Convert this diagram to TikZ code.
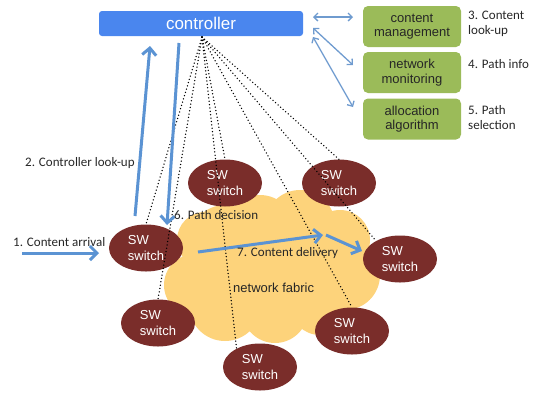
\documentclass[tikz,border=0pt]{standalone}
\usepackage{fontspec}
\setmainfont{Liberation Sans}
\newfontfamily\calib{Carlito}
\usetikzlibrary{arrows.meta,shapes.geometric}
\definecolor{ctrlblue}{HTML}{4A86EE}
\definecolor{boxgreen}{HTML}{9BBB59}
\definecolor{swred}{HTML}{7A2D2A}
\definecolor{cloudc}{HTML}{FDD37B}
\definecolor{arrblue}{HTML}{5B93D3}
\definecolor{thinblue}{HTML}{6F9BCF}
\tikzset{
  ctrlbox/.style={fill=ctrlblue, rounded corners=3pt, minimum width=204pt, minimum height=25pt, inner sep=0pt, text=white, font=\fontsize{17}{19}\selectfont},
  funcbox/.style={fill=boxgreen, rounded corners=5pt, minimum width=98pt, minimum height=41pt, inner sep=0pt, align=center, text=black!85, font=\fontsize{13}{14.5}\selectfont},
  swnode/.style={ellipse, fill=swred, minimum width=74pt, minimum height=47pt, inner sep=0pt, align=left, text=white, font=\fontsize{13}{15.5}\selectfont},
  lbl/.style={inner sep=0pt, align=left, anchor=west, text=black!85, font=\calib\fontsize{13}{15.5}\selectfont},
  ctrlline/.style={line width=1.5pt, dash pattern=on 0pt off 3.4pt, line cap=round, black},
  bigarrow/.style={arrblue, line width=3pt, -{Straight Barb[length=7pt,width=14pt]}},
  thinarrow/.style={thinblue, line width=1.3pt, {Straight Barb[length=4pt,width=8pt]}-{Straight Barb[length=4pt,width=8pt]}}
}
\begin{document}
\begin{tikzpicture}[x=1pt,y=-1pt]
\useasboundingbox (0,0) rectangle (538,392);
% cloud
\fill[cloudc]
  (275,270) circle[radius=52pt]
  (205,240) circle[radius=28pt]
  (225,240) circle[radius=35pt]
  (260,230) circle[radius=35pt]
  (300,225) circle[radius=35pt]
  (340,240) circle[radius=30pt]
  (345,275) circle[radius=35pt]
  (320,305) circle[radius=30pt]
  (275,310) circle[radius=33pt]
  (225,305) circle[radius=36pt]
  (195,285) circle[radius=31pt];
% controller and function boxes
\node[ctrlbox] (ctrl) at (201,23.5) {controller};
\node[funcbox] (cm) at (412,26.5) {content\\management};
\node[funcbox] (nm) at (412,72.5) {network\\monitoring};
\node[funcbox] (aa) at (412,119) {allocation\\algorithm};
% switches
\node[swnode] (swin) at (146,248) {SW\\switch};
\node[swnode] (swtl) at (225,183) {SW\\switch};
\node[swnode] (swtr) at (339,183) {SW\\switch};
\node[swnode] (swout) at (400,259) {SW\\switch};
\node[swnode] (swbl) at (158,323) {SW\\switch};
\node[swnode] (swbm) at (260,367) {SW\\switch};
\node[swnode] (swbr) at (352,331) {SW\\switch};
% fabric label
\node[inner sep=0pt, anchor=west, text=black!85, font=\fontsize{13}{15}\selectfont] (fab) at (233,288) {network fabric};
% control lines
\coordinate (o) at (202,37);
\draw[ctrlline] (o) -- (swin.north);
\draw[ctrlline] (o) -- (swbl.north);
\draw[ctrlline] (o) -- (swtl.north);
\draw[ctrlline] (o) -- (swbm.142);
\draw[ctrlline] (o) -- (swtr.north);
\draw[ctrlline] (o) -- (swout.143);
\draw[ctrlline] (o) -- (swbr.north);
% thin double arrows
\coordinate (t1a) at (313,17);  \coordinate (t1b) at (353,17);
\coordinate (t2a) at (313,28);  \coordinate (t2b) at (353,65);
\coordinate (t3a) at (313,37);  \coordinate (t3b) at (353,107);
\draw[thinarrow] (t1a) -- (t1b);
\draw[thinarrow] (t2a) -- (t2b);
\draw[thinarrow] (t3a) -- (t3b);
% big arrows
\coordinate (arrA) at (22,253); \coordinate (arrB) at (99,253);
\coordinate (upA) at (135,216); \coordinate (upB) at (150,46);
\coordinate (dnA) at (179,43);  \coordinate (dnB) at (167,225);
\coordinate (d1A) at (198,252); \coordinate (d1B) at (323,235);
\coordinate (d2A) at (326,235); \coordinate (d2B) at (362,251);
\draw[bigarrow] (arrA) -- (arrB);
\draw[bigarrow] (upA) -- (upB);
\draw[bigarrow] (dnA) -- (dnB);
\draw[bigarrow] (d1A) -- (d1B);
\draw[bigarrow] (d2A) -- (d2B);
% labels
\node[lbl] (l1) at (13,242) {1. Content arrival};
\node[lbl] (l2) at (25,163) {2. Controller look-up};
\node[lbl] (l3) at (468,24) {3. Content\\look-up};
\node[lbl] (l4) at (468,64) {4. Path info};
\node[lbl] (l5) at (468,117.5) {5. Path\\selection};
\node[lbl] (l6) at (174,215) {6. Path decision};
\node[lbl] (l7) at (237,253) {7. Content delivery};
\end{tikzpicture}
\end{document}
